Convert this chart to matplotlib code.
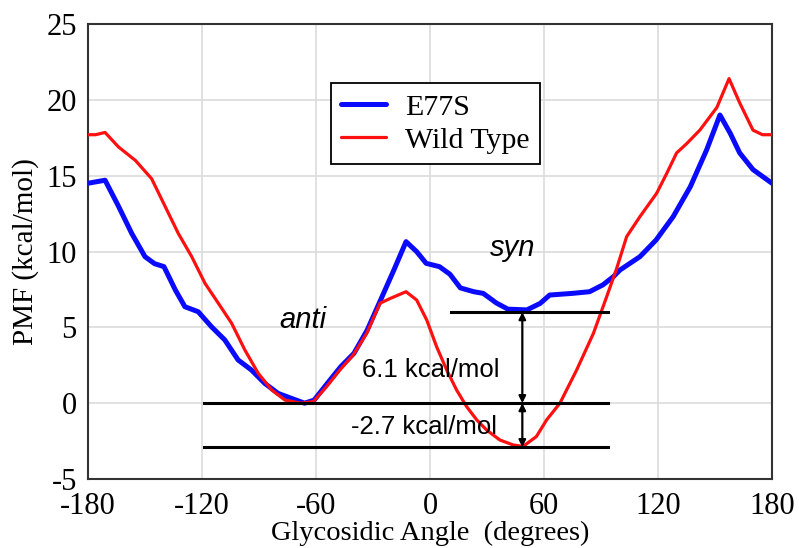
import matplotlib
matplotlib.use("Agg")
import matplotlib.pyplot as plt

# ---- data ----
angle_e77s = [-180, -171, -164, -157, -150, -145, -140, -134, -129, -122, -115, -108,
              -101, -94, -87, -80, -73, -66, -61, -54, -47, -40, -33, -26, -19, -12.6,
              -7, -2, 5, 10.5, 16, 23, 28, 35, 41, 51, 58, 63, 75, 84, 91, 96.5, 100,
              110.5, 119, 128, 137, 145.6, 152.6, 158, 163, 170, 180]
pmf_e77s = [14.5, 14.7, 13.0, 11.2, 9.66, 9.2, 9.0, 7.46, 6.36, 6.03, 5.04, 4.17,
            2.85, 2.19, 1.31, 0.65, 0.32, 0.0, 0.2, 1.31, 2.4, 3.29, 4.83, 6.8, 8.78, 10.65,
            9.99, 9.22, 9.0, 8.5, 7.6, 7.35, 7.24, 6.6, 6.2, 6.15, 6.58, 7.13, 7.24, 7.35, 7.8, 8.34, 8.78,
            9.66, 10.76, 12.3, 14.27, 16.7, 19.0, 17.8, 16.5, 15.4, 14.5]

angle_wt = [-180, -176, -171, -164, -155, -146.5, -139.5, -132.5, -125.4, -118.4, -111.4,
            -104.4, -97.4, -90.4, -83.3, -76.3, -68, -61.4, -54.4, -47.4, -40.4, -33.3,
            -26.3, -21, -12.6, -7, -1.7, 3.5, 8.8, 14, 19.3, 24.6, 29.8, 36.8, 43.9, 49,
            56, 61.4, 68.4, 77.2, 86, 93, 98.3, 103.5, 110.5, 119.3, 124.6, 129.8, 135,
            142, 151, 157.4, 163, 170, 175, 180]
pmf_wt = [17.7, 17.7, 17.85, 16.9, 16.0, 14.8, 13.0, 11.2, 9.66, 7.9, 6.59,
          5.27, 3.5, 1.97, 0.87, 0.2, 0.0, 0.1, 1.09, 2.19, 3.18, 4.6,
          6.59, 6.9, 7.35, 6.8, 5.48, 3.72, 2.19, 0.87, -0.23, -1.1, -1.77, -2.43, -2.76, -2.85,
          -2.2, -1.1, 0.0, 2.19, 4.6, 7.02, 8.9, 10.98, 12.3, 13.84, 15.15, 16.5, 17.1,
          18.0, 19.5, 21.4, 19.8, 18.0, 17.7, 17.7]

series_labels = ["E77S", "Wild Type"]
x_ticks = [-180, -120, -60, 0, 60, 120, 180]
y_ticks = [-5, 0, 5, 10, 15, 20, 25]

# reference levels (kcal/mol) and annotation texts
level_syn = 6.0
level_anti = 0.0
level_wt_syn = -2.9
barrier_texts = ["6.1 kcal/mol", "-2.7 kcal/mol"]

serif = ["Liberation Serif", "DejaVu Serif"]
sans = ["Liberation Sans", "DejaVu Sans"]

fig = plt.figure(figsize=(7.99, 5.48), dpi=100)
ax = fig.add_axes([0.1101, 0.1259, 0.8561, 0.8303])

ax.plot(angle_e77s, pmf_e77s, color="#0a0aff", lw=3.6, label=series_labels[0],
        solid_capstyle="round", solid_joinstyle="round", zorder=3)
ax.plot(angle_wt, pmf_wt, color="#ff1010", lw=2.3, label=series_labels[1],
        solid_capstyle="round", solid_joinstyle="round", zorder=4)

ax.set_xlim(-180, 180)
ax.set_ylim(-5, 25)
ax.set_xticks(x_ticks)
ax.set_yticks(y_ticks)
ax.set_xticklabels([str(t) for t in x_ticks], family=serif, fontsize=22)
ax.set_yticklabels([str(t) for t in y_ticks], family=serif, fontsize=22)
ax.tick_params(length=0)
ax.tick_params(axis="y", pad=8)
ax.tick_params(axis="x", pad=9)
ax.grid(True, color="#dcdcdc", lw=1.2)
ax.set_axisbelow(True)
for s in ax.spines.values():
    s.set_color("#333333")
    s.set_linewidth(1.5)

ax.set_xlabel("Glycosidic Angle  (degrees)", family=serif, fontsize=20.5, labelpad=0)
ax.set_ylabel("PMF (kcal/mol)", family=serif, fontsize=21, labelpad=5)

# horizontal reference lines
ax.plot([11, 93.7], [level_syn, level_syn], color="black", lw=2.2, zorder=5)
ax.plot([-119, 93.7], [level_anti, level_anti], color="black", lw=2.2, zorder=5)
ax.plot([-119, 93.7], [level_wt_syn, level_wt_syn], color="black", lw=2.2, zorder=5)

arrow_x = 48.6
ap = dict(arrowstyle="<|-|>", color="black", lw=1.6, shrinkA=0, shrinkB=0,
          mutation_scale=10)
ax.annotate("", xy=(arrow_x, level_syn), xytext=(arrow_x, level_anti), arrowprops=ap, zorder=6)
ax.annotate("", xy=(arrow_x, level_anti), xytext=(arrow_x, level_wt_syn), arrowprops=ap, zorder=6)

ax.text(0.5, 2.2, barrier_texts[0], family=sans, fontsize=18.5, ha="center", va="center", zorder=7)
ax.text(-3, -1.6, barrier_texts[1], family=sans, fontsize=18.5, ha="center", va="center", zorder=7)
ax.text(-66.8, 5.5, "anti", family=sans, style="italic", fontsize=21, ha="center", va="center")
ax.text(43.7, 10.2, "syn", family=sans, style="italic", fontsize=21, ha="center", va="center")

leg = ax.legend(loc="upper left", bbox_to_anchor=(0.414, 0.848), bbox_transform=fig.transFigure,
                prop={"family": serif, "size": 21.5}, frameon=True, fancybox=False,
                handlelength=1.5, handletextpad=0.65, labelspacing=0.2, borderpad=0.35,
                borderaxespad=0)
leg.get_frame().set_edgecolor("black")
leg.get_frame().set_linewidth(1.3)
leg.get_frame().set_alpha(1)

fig.savefig("out.png", dpi=100)
